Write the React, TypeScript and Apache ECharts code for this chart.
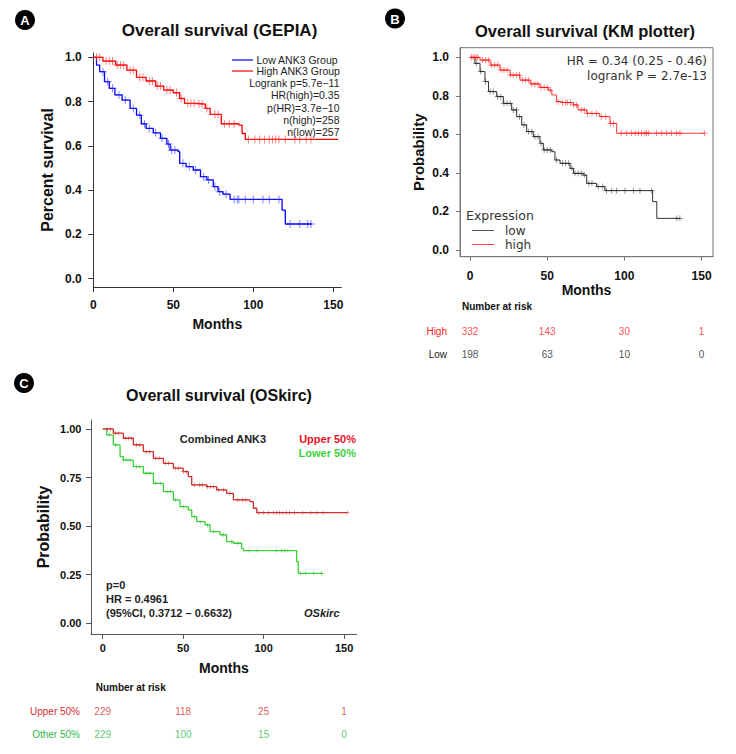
import React, { useEffect, useRef } from "react";
import * as echarts from "echarts";

// ---- Panel A (GEPIA) ----
const gepiaHigh: [number, number][] = [[0,1],[6,0.983],[14,0.965],[21,0.942],[27,0.909],[33,0.893],[39,0.87],[44,0.852],[50,0.84],[54,0.814],[57,0.792],[65,0.789],[70,0.769],[73,0.742],[80,0.7],[91,0.694],[93,0.656],[95,0.629],[153,0.629]];
const gepiaLow: [number, number][] = [[0,1],[2,0.965],[4,0.935],[7,0.89],[10,0.86],[13.5,0.83],[18,0.807],[23,0.769],[27,0.739],[30,0.7],[33,0.679],[37.5,0.659],[42,0.634],[46,0.608],[48,0.581],[53,0.574],[54,0.521],[58,0.506],[62.5,0.491],[67,0.461],[71,0.446],[75,0.416],[78,0.393],[81,0.382],[85.5,0.358],[118,0.31],[120,0.247],[136.5,0.247]];
const gepiaHighCensor = [2,4,8,10,12,15,17,19,23,25,29,31,35,37,40,42,46,48,52,55,59,61,63,66,68,71,76,78,82,85,88,97,101,104,107,110,112,114,116,120,126,129,133,136];
const gepiaLowCensor = [6,9,12,16,20,25,29,32,35,39,43,47,49,51,56,60,64,69,72,76,79,83,88,90,91,95,100,106,110,116,123,129,134,136];
const gepiaLegend = ["Low ANK3 Group", "High ANK3 Group"];
const gepiaStats = ["Logrank p=5.7e\u221211", "HR(high)=0.35", "p(HR)=3.7e\u221210", "n(high)=258", "n(low)=257"];

// ---- Panel B (KM plotter) ----
const kmHigh: [number, number][] = [[0,1],[6.5,0.986],[13,0.96],[19.4,0.934],[26,0.908],[32.4,0.882],[39,0.862],[45.3,0.844],[50.7,0.83],[53,0.805],[56,0.77],[59.4,0.765],[67,0.753],[70,0.727],[75.6,0.709],[84,0.692],[90.7,0.657],[95,0.606],[152,0.606]];
const kmLow: [number, number][] = [[0,1],[3.2,0.969],[6.5,0.926],[9.7,0.874],[12,0.822],[17.3,0.796],[21.6,0.761],[27,0.727],[30.2,0.692],[33.5,0.649],[36.7,0.614],[41,0.588],[45.3,0.554],[47.5,0.519],[53,0.51],[55,0.467],[58.3,0.45],[64.8,0.424],[67,0.398],[73.4,0.389],[75.6,0.346],[82,0.329],[87.4,0.308],[118.3,0.251],[121,0.164],[136,0.164]];
const kmHighCensor = [1,2,3,4,5,8,10,12,14,16,18,20,22,24,26,28,30,32,34,36,38,40,42,44,46,48,50,52,57,60,62,63,65,67,69,72,74,76,79,82,85,88,91,93,98,101.5,104.7,107,109,111.2,113.3,114.4,115.5,120.9,124.2,127.4,130.6,133.9,136,152];
const kmLowCensor = [4,7,10,13,15,18,20,22,24,26,28,30,32,35,38,40,42,44,46,48,50,52,56,60,62,64,66,68,70,72,74,77,79,83,86,88.5,91.8,95,100.4,105.8,110.1,117.7,134,136];
const kmStats = ["HR = 0.34 (0.25 - 0.46)", "logrank P = 2.7e-13"];
const kmRiskTimes = [0, 50, 100, 150];
const kmRiskHigh = [332, 143, 30, 1];
const kmRiskLow = [198, 63, 10, 0];

// ---- Panel C (OSkirc) ----
const osUpper: [number, number][] = [[0,1],[6.6,0.978],[12.8,0.952],[19,0.918],[25.3,0.883],[31.5,0.849],[37.7,0.823],[43.9,0.798],[50,0.78],[53.2,0.755],[55.3,0.712],[64.6,0.703],[70.8,0.686],[77,0.669],[81.2,0.635],[91.5,0.626],[93.6,0.592],[95.7,0.569],[152,0.569]];
const osLower: [number, number][] = [[0,1],[2.5,0.969],[6.6,0.918],[10.8,0.858],[12.8,0.84],[19,0.806],[25.3,0.772],[31.5,0.72],[37.7,0.678],[43.9,0.635],[48,0.6],[53.2,0.583],[55.3,0.549],[58.4,0.523],[63.6,0.506],[66.7,0.472],[72.9,0.455],[77,0.42],[81.2,0.412],[86.3,0.386],[87.4,0.374],[120.5,0.317],[121.5,0.257],[136.6,0.257]];
const osUpperCensor = [3,5,8,10,14,16,18,21,23,27,29,33,35,39,41,45,47,50,52,57,60,62,65,67,69,72,75,79,84,87,89,97,100,103,106,108,110,112,114,116,119,124,129,133,137,152];
const osLowerCensor = [4,8,13,15,17,21,23,27,29,33,36,40,42,45,50,57,61,65,69,75,80,84,91,96,108,111,113,115,123,126,131,136];
const osRiskTimes = [0, 50, 100, 150];
const osRiskUpper = [229, 118, 25, 1];
const osRiskOther = [229, 100, 15, 0];

const xTicks = [0, 50, 100, 150];
const yTicksAB = [0, 0.2, 0.4, 0.6, 0.8, 1.0];
const yTicksC = [0, 0.25, 0.5, 0.75, 1.0];

const ARIAL = '"Liberation Sans", Arial, sans-serif';
const DEJAVU = '"DejaVu Sans", sans-serif';
const PLUS = "path://M-5,-0.6H5V0.6H-5Z M-0.6,-5H0.6V5H-0.6Z";

function survAt(curve: [number, number][], t: number) {
  let v = curve[0][1];
  for (const [m, s] of curve) {
    if (m <= t) v = s;
    else break;
  }
  return v;
}

function censorPts(curve: [number, number][], times: number[]) {
  return times.map((t) => [t, survAt(curve, t)]);
}

function valueX(grid: number, min: number, max: number, color: string, labelMargin: number, fontSize: number, tickLen: number, nameGap: number, nameSize: number) {
  return {
    gridIndex: grid, type: "value", min, max,
    axisLine: { onZero: false, lineStyle: { color, width: 1 } },
    axisTick: { customValues: xTicks, length: tickLen, lineStyle: { color } },
    axisLabel: { customValues: xTicks, margin: labelMargin, fontSize, fontWeight: "bold", color: "#111", fontFamily: ARIAL },
    splitLine: { show: false },
    name: "Months", nameLocation: "middle", nameGap,
    nameTextStyle: { fontSize: nameSize, fontWeight: "bold", color: "#111", fontFamily: ARIAL },
  };
}

function valueY(grid: number, min: number, max: number, ticks: number[], digits: number, color: string, labelMargin: number, fontSize: number, tickLen: number, name: string, nameGap: number, nameSize: number) {
  return {
    gridIndex: grid, type: "value", min, max,
    axisLine: { show: true, onZero: false, lineStyle: { color, width: 1 } },
    axisTick: { show: true, customValues: ticks, length: tickLen, lineStyle: { color } },
    axisLabel: { customValues: ticks, margin: labelMargin, fontSize, fontWeight: "bold", color: "#111", fontFamily: ARIAL, formatter: (v: number) => v.toFixed(digits) },
    splitLine: { show: false },
    name, nameLocation: "middle", nameGap,
    nameTextStyle: { fontSize: nameSize, fontWeight: "bold", color: "#111", fontFamily: ARIAL },
  };
}

function txt(x: number, y: number, text: string, font: string, fill: string, align = "left") {
  return { type: "text", x, y, style: { text, font, fill, textAlign: align, textVerticalAlign: "middle" } };
}

function badge(cx: number, cy: number, letter: string) {
  return [
    { type: "circle", shape: { cx, cy, r: 10 }, style: { fill: "#000" } },
    txt(cx, cy + 0.5, letter, `bold 13px ${ARIAL}`, "#fff", "center"),
  ];
}

export default function App() {
  const ref = useRef<HTMLDivElement>(null);
  useEffect(() => {
    document.body.style.margin = "0";
    const chart = echarts.init(ref.current!, null, { renderer: "svg" });

    const lineS = (xi: number, data: [number, number][], color: string, width: number) => ({
      type: "line", xAxisIndex: xi, yAxisIndex: xi, data, step: "end", showSymbol: false,
      lineStyle: { color, width }, itemStyle: { color }, z: 3,
    });
    const censS = (xi: number, curve: [number, number][], times: number[], color: string, size: number) => ({
      type: "scatter", xAxisIndex: xi, yAxisIndex: xi, data: censorPts(curve, times),
      symbol: PLUS, symbolSize: size, itemStyle: { color }, z: 4,
    });
    const riskS = (xi: number, row: string, times: number[], vals: number[], color: string) => ({
      type: "scatter", xAxisIndex: xi, yAxisIndex: xi,
      data: times.map((t, i) => [t, row, vals[i]]),
      symbolSize: 1, itemStyle: { color: "transparent" },
      label: { show: true, position: "inside", formatter: (p: any) => String(p.value[2]), color, fontSize: 10, fontFamily: ARIAL },
    });

    const riskColorsB: Record<string, string> = { High: "#ff1a1a", Low: "#222" };
    const riskColorsC: Record<string, string> = { "Upper 50%": "#d8302f", "Other 50%": "#2fb84a" };

    const graphic: any[] = [
      ...badge(25, 20, "A"),
      ...badge(395, 18.5, "B"),
      ...badge(24, 383, "C"),
      txt(219.5, 30, "Overall survival (GEPIA)", `bold 17px ${ARIAL}`, "#111", "center"),
      txt(585, 31, "Overall survival (KM plotter)", `bold 16.5px ${ARIAL}`, "#111", "center"),
      txt(219, 395, "Overall survival (OSkirc)", `bold 16px ${ARIAL}`, "#111", "center"),
      // A legend
      { type: "line", shape: { x1: 232, y1: 60, x2: 253, y2: 60 }, style: { stroke: "#0000ff", lineWidth: 1.2 } },
      { type: "line", shape: { x1: 232, y1: 71, x2: 253, y2: 71 }, style: { stroke: "#ff0000", lineWidth: 1.2 } },
      txt(256.5, 60, gepiaLegend[0], `10.5px ${ARIAL}`, "#222"),
      txt(256.5, 71, gepiaLegend[1], `10.5px ${ARIAL}`, "#222"),
      ...gepiaStats.map((s, i) => txt(339.5, 83 + i * 12.3, s, `10.5px ${ARIAL}`, "#222", "right")),
      // B annotations
      txt(707, 61, kmStats[0], `12px ${DEJAVU}`, "#333", "right"),
      txt(707, 76, kmStats[1], `12px ${DEJAVU}`, "#333", "right"),
      txt(466, 215, "Expression", `12.5px ${DEJAVU}`, "#333"),
      { type: "line", shape: { x1: 472, y1: 230.5, x2: 494, y2: 230.5 }, style: { stroke: "#555", lineWidth: 1 } },
      { type: "line", shape: { x1: 472, y1: 244.5, x2: 494, y2: 244.5 }, style: { stroke: "#ff4040", lineWidth: 1 } },
      txt(505, 231, "low", `12px ${DEJAVU}`, "#333"),
      txt(505, 245, "high", `12px ${DEJAVU}`, "#333"),
      txt(462, 306, "Number at risk", `bold 10px ${ARIAL}`, "#111"),
      // C annotations
      txt(223, 439, "Combined ANK3", `bold 11px ${ARIAL}`, "#222", "center"),
      txt(356, 439, "Upper 50%", `bold 11px ${ARIAL}`, "#e8141e", "right"),
      txt(356, 452.7, "Lower 50%", `bold 11px ${ARIAL}`, "#3bd23b", "right"),
      txt(106, 585, "p=0", `bold 11px ${ARIAL}`, "#222"),
      txt(106, 599, "HR = 0.4961", `bold 11px ${ARIAL}`, "#222"),
      txt(106, 612.5, "(95%CI, 0.3712 \u2013 0.6632)", `bold 11px ${ARIAL}`, "#222"),
      txt(339.5, 612.5, "OSkirc", `italic bold 11px ${ARIAL}`, "#222", "right"),
      txt(95.7, 687.7, "Number at risk", `bold 10px ${ARIAL}`, "#111"),
    ];

    chart.setOption({
      animation: false,
      backgroundColor: "#fff",
      grid: [
        { left: 93.3, top: 52.9, width: 248, height: 234.1 },
        { left: 460, top: 47.7, width: 253, height: 209, show: true, borderColor: "#777", borderWidth: 1 },
        { left: 91, top: 420, width: 265.7, height: 214 },
        { left: 460, top: 319.5, width: 253, height: 46 },
        { left: 91, top: 699.5, width: 265.7, height: 46 },
      ],
      xAxis: [
        valueX(0, 0, 155, "#333", 12, 12, 5, 30, 14),
        valueX(1, -6.48, 157.4, "#777", 13, 12, 4, 23.5, 14),
        valueX(2, -7.27, 157.8, "#555", 8.5, 11, 5, 27, 14),
        { gridIndex: 3, type: "value", min: -6.48, max: 157.4, show: false },
        { gridIndex: 4, type: "value", min: -7.27, max: 157.8, show: false },
      ],
      yAxis: [
        valueY(0, -0.0375, 1.02, yTicksAB, 1, "#333", 11.5, 12, 5, "Percent survival", 38, 16),
        valueY(1, -0.035, 1.05, yTicksAB, 1, "#777", 11, 12, 4, "Probability", 34.5, 15),
        valueY(2, -0.055, 1.046, yTicksC, 2, "#555", 9.5, 11, 5, "Probability", 40, 16),
        {
          gridIndex: 3, type: "category", data: ["High", "Low"], inverse: true,
          axisLine: { show: false }, axisTick: { show: false },
          axisLabel: { margin: 13, fontSize: 10, fontFamily: ARIAL, color: (v: string) => riskColorsB[v] },
        },
        {
          gridIndex: 4, type: "category", data: ["Upper 50%", "Other 50%"], inverse: true,
          axisLine: { show: false }, axisTick: { show: false },
          axisLabel: { margin: 11, fontSize: 10, fontFamily: ARIAL, color: (v: string) => riskColorsC[v] },
        },
      ],
      series: [
        lineS(0, gepiaLow, "#0000ff", 1.3),
        lineS(0, gepiaHigh, "#ff0000", 1.3),
        censS(0, gepiaLow, gepiaLowCensor, "rgba(40,40,255,0.75)", 8),
        censS(0, gepiaHigh, gepiaHighCensor, "rgba(255,40,40,0.75)", 8),
        lineS(1, kmLow, "#333", 1),
        lineS(1, kmHigh, "#ff3a3a", 1),
        censS(1, kmLow, kmLowCensor, "rgba(30,30,30,0.8)", 6),
        censS(1, kmHigh, kmHighCensor, "rgba(255,0,0,0.8)", 6),
        lineS(2, osLower, "#3ad43a", 1.3),
        lineS(2, osUpper, "#d32f2f", 1.3),
        censS(2, osLower, osLowerCensor, "#2fc02f", 4.5),
        censS(2, osUpper, osUpperCensor, "#c82626", 4.5),
        riskS(3, "High", kmRiskTimes, kmRiskHigh, riskColorsB.High),
        riskS(3, "Low", kmRiskTimes, kmRiskLow, riskColorsB.Low),
        riskS(4, "Upper 50%", osRiskTimes, osRiskUpper, riskColorsC["Upper 50%"]),
        riskS(4, "Other 50%", osRiskTimes, osRiskOther, riskColorsC["Other 50%"]),
      ],
      graphic,
    });
    return () => chart.dispose();
  }, []);
  return <div ref={ref} style={{ width: 736, height: 754 }} />;
}
